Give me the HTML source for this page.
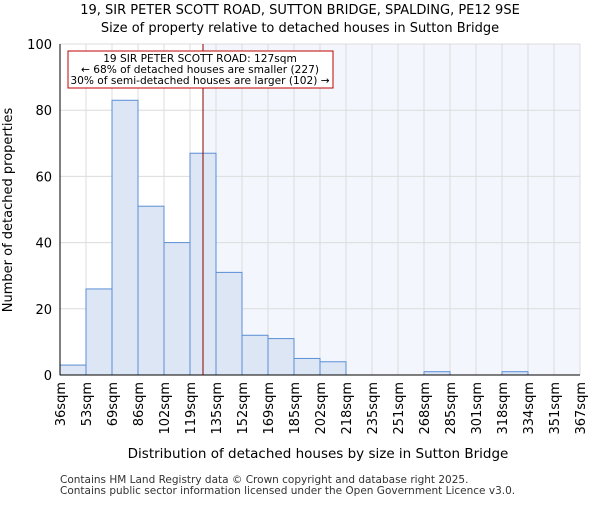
<!DOCTYPE html>
<html><head><meta charset="utf-8"><style>body{margin:0;background:#fff}svg text{font-family:"DejaVu Sans","Liberation Sans",sans-serif}</style></head>
<body>
<svg id="chart" width="600" height="500" xmlns="http://www.w3.org/2000/svg">
<text x="300" y="14" text-anchor="middle" font-size="13">19, SIR PETER SCOTT ROAD, SUTTON BRIDGE, SPALDING, PE12 9SE</text>
<text x="300" y="32" text-anchor="middle" font-size="13">Size of property relative to detached houses in Sutton Bridge</text>
<g id="plot"></g>
<text x="318" y="458" text-anchor="middle" font-size="13.5">Distribution of detached houses by size in Sutton Bridge</text>
<text transform="translate(12,210) rotate(-90)" text-anchor="middle" font-size="13">Number of detached properties</text>
<text x="60" y="483" font-size="10.5" fill="#333">Contains HM Land Registry data © Crown copyright and database right 2025.</text>
<text x="60" y="494" font-size="10.5" fill="#333">Contains public sector information licensed under the Open Government Licence v3.0.</text>
</svg>
<script>
const categories=["36sqm","53sqm","69sqm","86sqm","102sqm","119sqm","135sqm","152sqm","169sqm","185sqm","202sqm","218sqm","235sqm","251sqm","268sqm","285sqm","301sqm","318sqm","334sqm","351sqm","367sqm"];
const counts=[3,26,83,51,40,67,31,12,11,5,4,0,0,0,1,0,0,1,0,0];
const yTicks=[0,20,40,60,80,100];
const binEdges=[36,53,69,86,102,119,135,152,169,185,202,218,235,251,268,285,301,318,334,351,367];
const propertySize=127;
const NS="http://www.w3.org/2000/svg";
const L=60,R=580,T=44,B=375,yMax=100;
const g=document.getElementById('plot');
const bw=(R-L)/counts.length;
const xi=i=>L+i*bw;
const y=v=>B-(v/yMax)*(B-T);
function mk(t,a){const e=document.createElementNS(NS,t);for(const k in a)e.setAttribute(k,a[k]);g.appendChild(e);return e;}
let mi=0;for(let i=0;i<binEdges.length-1;i++){if(propertySize>=binEdges[i]&&propertySize<=binEdges[i+1]){mi=i+(propertySize-binEdges[i])/(binEdges[i+1]-binEdges[i]);break;}}
const mx=xi(mi);
let e=mk('rect',{x:mx,y:T,width:R-mx,height:B-T,fill:'#f3f6fc'});


for(let i=0;i<=counts.length;i++){e=mk('line',{x1:xi(i),x2:xi(i),y1:T,y2:B,stroke:'#dcdcdc'});

}
yTicks.forEach(v=>{e=mk('line',{x1:L,x2:R,y1:y(v),y2:y(v),stroke:'#dcdcdc'});


const t=mk('text',{x:L-8,y:y(v)+5,'text-anchor':'end','font-size':13});t.textContent=v;

});
counts.forEach((c,i)=>{if(c<=0)return;e=mk('rect',{x:xi(i),y:y(c),width:bw,height:B-y(c),fill:'#dce6f4',stroke:'#5b8fd6','stroke-width':1});

});
categories.forEach((c,i)=>{const t=mk('text',{transform:`translate(${xi(i)+5},382) rotate(-90)`,'text-anchor':'end','font-size':13});t.textContent=c;

});
e=mk('line',{x1:L,x2:L,y1:T,y2:B,stroke:'#000'});


e=mk('line',{x1:L,x2:R,y1:B,y2:B,stroke:'#000'});


e=mk('line',{x1:mx,x2:mx,y1:T,y2:B,stroke:'#8b0000','stroke-width':1});


e=mk('rect',{x:68,y:51,width:265,height:37,fill:'#fff',stroke:'#c00000','stroke-width':1});


["19 SIR PETER SCOTT ROAD: "+propertySize+"sqm","← 68% of detached houses are smaller (227)","30% of semi-detached houses are larger (102) →"].forEach((s,k)=>{const t=mk('text',{x:200,y:62+k*11,'text-anchor':'middle','font-size':10.6});t.textContent=s;

});
</script>
</body></html>
